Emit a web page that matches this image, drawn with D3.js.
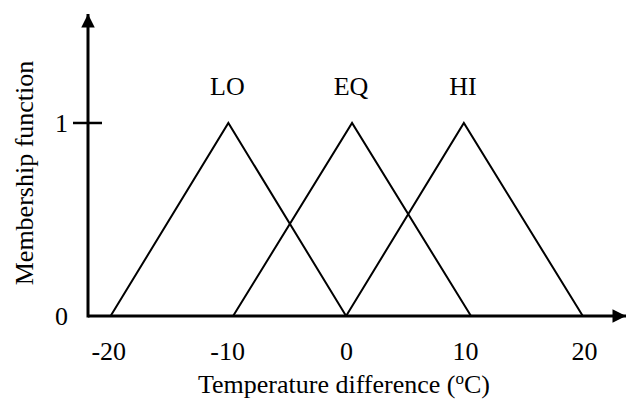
<html>
<head>
<meta charset="UTF-8">
<title>Membership functions</title>
<script src="https://cdn.jsdelivr.net/npm/d3@7"></script>
<style>
    body { margin: 0; background: #fff; }
    text { font-family: "Liberation Serif", "Times New Roman", serif; fill: #000; }
    .mf { fill: none; stroke: #000; stroke-width: 2px; }
</style>
</head>
<body>
<svg width="630" height="401"></svg>
<script>
// membership functions, x in degC, y = membership
var sets = ['LO', 'EQ', 'HI'];
var loPts = [[-19.8, 0], [-9.9, 1], [0, 0]];
var eqPts = [[-9.5, 0], [0.5, 1], [10.5, 0]];
var hiPts = [[0, 0], [9.9, 1], [19.9, 0]];
var xTicks = [-20, -10, 0, 10, 20];
var yTicks = [0, 1];

var svg = d3.select('svg');

var x = d3.scaleLinear().domain([-21.7, 23.7]).range([88, 628]);
var y = d3.scaleLinear().domain([0, 1.575]).range([316, 12]);

var line = d3.line()
    .x(d => x(d[0]))
    .y(d => y(d[1]));

var series = [loPts, eqPts, hiPts];

svg.selectAll('.mf')
    .data(series)
    .enter()
    .append('path')
    .attr('class', 'mf')
    .attr('d', d => line(d));

// set names above the peaks
svg.selectAll('.setname')
    .data(series)
    .enter()
    .append('text')
    .attr('class', 'setname')
    .attr('x', d => x(d[1][0]) - 1)
    .attr('y', y(1) - 28)
    .attr('text-anchor', 'middle')
    .style('font-size', '26px')
    .text((d, i) => sets[i]);

// arrow marker
var defs = svg.append('defs');
defs.append('marker')
    .attr('id', 'arrow')
    .attr('viewBox', '0 0 10 10')
    .attr('refX', 10).attr('refY', 5)
    .attr('markerWidth', 6).attr('markerHeight', 4.5)
    .attr('markerUnits', 'strokeWidth')
    .attr('orient', 'auto')
    .append('path')
    .attr('d', 'M0,0 L10,5 L0,10 Z')
    .attr('fill', '#000');

// axes as arrows
svg.append('line')
    .attr('x1', x.range()[0]).attr('x2', x.range()[1] - 2)
    .attr('y1', y(0)).attr('y2', y(0))
    .attr('stroke', '#000').attr('stroke-width', 3)
    .attr('marker-end', 'url(#arrow)');
svg.append('line')
    .attr('x1', x.range()[0]).attr('x2', x.range()[0])
    .attr('y1', y(0) + 1.5).attr('y2', y.range()[1] + 2)
    .attr('stroke', '#000').attr('stroke-width', 3)
    .attr('marker-end', 'url(#arrow)');

// x axis labels
var xAxis = d3.axisBottom(x).tickValues(xTicks).tickSize(0).tickPadding(0)
    .tickFormat(d => String(d));
var gx = svg.append('g')
    .attr('transform', 'translate(0,360)')
    .call(xAxis);
gx.select('.domain').remove();
gx.selectAll('text')
    .attr('dy', 0)
    .style('font-size', '26px')
    .style('font-family', '"Liberation Serif", serif');

// y axis labels and the tick at 1
var yAxis = d3.axisLeft(y).tickValues(yTicks).tickSize(0).tickPadding(0).tickFormat(d3.format('d'));
var gy = svg.append('g')
    .attr('transform', 'translate(' + (x.range()[0] - 20) + ',0)')
    .call(yAxis);
gy.select('.domain').remove();
gy.selectAll('text')
    .style('font-size', '26px')
    .style('font-family', '"Liberation Serif", serif');

svg.append('line')
    .attr('x1', x.range()[0] - 15).attr('x2', x.range()[0] + 14)
    .attr('y1', y(1)).attr('y2', y(1))
    .attr('stroke', '#000').attr('stroke-width', 2.5);

// axis titles
svg.append('text')
    .attr('x', 344).attr('y', 393)
    .attr('text-anchor', 'middle')
    .style('font-size', '26px')
    .html('Temperature difference (<tspan baseline-shift="super" font-size="17px">o</tspan>C)');

svg.append('text')
    .attr('transform', 'translate(33,173) rotate(-90)')
    .attr('text-anchor', 'middle')
    .style('font-size', '26px')
    .text('Membership function');
</script>
</body>
</html>
